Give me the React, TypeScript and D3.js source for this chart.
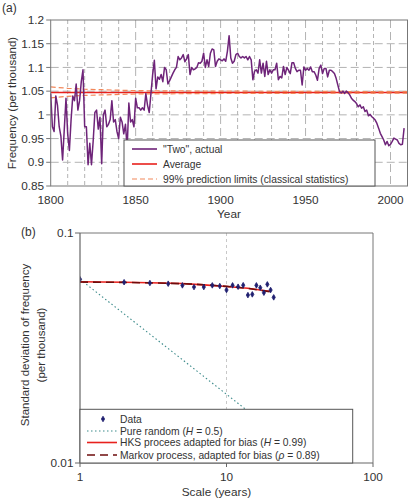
import React from 'react';
import * as d3 from 'd3';

// ---------- Panel (a) data ----------
const startYear = 1800;
const twoActual = [
  1.045, 0.975, 0.965, 1.040, 1.020, 0.975, 0.955, 0.905, 0.970, 1.035,
  0.960, 0.925, 0.990, 1.040, 1.030, 1.065, 1.010, 1.030, 1.070, 1.095,
  0.975, 0.975, 0.895, 0.940, 0.895, 0.945, 1.005, 1.010, 0.970, 0.995,
  0.897, 1.000, 1.010, 0.975, 0.980, 0.990, 1.030, 0.985, 0.990, 0.965,
  0.950, 0.995, 0.985, 0.960, 0.980, 0.930, 1.025, 0.985, 0.990, 0.975,
  1.035, 1.015, 1.015, 1.010, 1.015, 1.010, 1.045, 1.020, 1.005, 1.045,
  1.085, 1.115, 1.055, 1.080, 1.075, 1.085, 1.070, 1.100, 1.095, 1.065,
  1.072, 1.080, 1.088, 1.095, 1.100, 1.123, 1.116, 1.120, 1.127, 1.112,
  1.118, 1.127, 1.085, 1.100, 1.095, 1.097, 1.100, 1.110, 1.109, 1.113,
  1.130, 1.100, 1.116, 1.102, 1.130, 1.139, 1.137, 1.102, 1.113, 1.118,
  1.116, 1.114, 1.118, 1.113, 1.134, 1.167, 1.120, 1.109, 1.113, 1.127,
  1.130, 1.123, 1.120, 1.123, 1.120, 1.123, 1.116, 1.123, 1.116, 1.074,
  1.092, 1.095, 1.088, 1.116, 1.088, 1.109, 1.081, 1.113, 1.085, 1.095,
  1.088, 1.095, 1.095, 1.109, 1.074, 1.081, 1.078, 1.102, 1.085, 1.100,
  1.094, 1.087, 1.110, 1.110, 1.098, 1.091, 1.094, 1.094, 1.063, 1.101,
  1.094, 1.098, 1.094, 1.101, 1.091, 1.091, 1.084, 1.073, 1.098, 1.105,
  1.087, 1.098, 1.098, 1.080, 1.094, 1.094, 1.091, 1.087, 1.077, 1.063,
  1.049, 1.046, 1.050, 1.045, 1.050, 1.047, 1.042, 1.035, 1.031, 1.028,
  1.024, 1.017, 1.021, 1.014, 1.017, 1.007, 1.010, 0.998, 1.001, 0.996,
  0.993, 0.989, 0.982, 0.972, 0.961, 0.954, 0.947, 0.937, 0.944, 0.935,
  0.938, 0.944, 0.951, 0.949, 0.947, 0.940, 0.937, 0.938, 0.972,
];
const averageValue = 1.047;
const limitYears = [1800, 1810, 1820, 1830, 1850, 1900, 1950, 2010];
const upperLimit = [1.059, 1.056, 1.054, 1.053, 1.051, 1.050, 1.0495, 1.049];
const lowerLimit = [1.036, 1.039, 1.041, 1.042, 1.044, 1.045, 1.0455, 1.046];
const yTicksA = [0.85, 0.9, 0.95, 1, 1.05, 1.1, 1.15, 1.2];
const yTickLabelsA = ['0.85', '0.9', '0.95', '1', '1.05', '1.1', '1.15', '1.2'];
const xTicksA = [1800, 1850, 1900, 1950, 2000];
const xGridA = [1810, 1820, 1830, 1840, 1850, 1860, 1870, 1880, 1890, 1900, 1910, 1920, 1930, 1940, 1950, 1960, 1970, 1980, 1990, 2000];

// ---------- Panel (b) data ----------
const sdScales = [1, 2, 3, 4, 5, 6, 7, 8, 9, 10, 11, 12, 13, 14, 15, 16, 17, 18, 19, 20, 21];
const sdValues = [
  0.0629, 0.0611, 0.0606, 0.0602, 0.0592, 0.0582, 0.0582, 0.0592, 0.0588, 0.0565,
  0.0592, 0.0584, 0.0593, 0.0537, 0.0541, 0.0592, 0.0578, 0.0550, 0.0598, 0.0565, 0.0525,
];
const randomScales = [1, 40];
const randomValues = [0.0629, 0.00995];
const modelScales = [1, 2, 3, 5, 7, 10, 14, 20];
const hksValues = [0.0614, 0.0611, 0.0608, 0.0603, 0.0595, 0.0585, 0.0575, 0.0557];
const markovValues = [0.0612, 0.0610, 0.0607, 0.0602, 0.0596, 0.0586, 0.0574, 0.0555];
const xTicksB = [1, 10, 100];
const xTickLabelsB = ['1', '10', '100'];
const yTicksB = [0.01, 0.1];
const yTickLabelsB = ['0.01', '0.1'];

const FONT = '"Liberation Sans", Arial, Helvetica, sans-serif';
const TXT = '#333';
const PURPLE = '#6e2479';
const RED = '#e8211d';
const ORANGE = '#f2875a';
const NAVY = '#1f1f70';
const TEAL = '#3d8b8b';
const MAROON = '#6e0c0c';

export default function App() {
  // Panel (a) scales
  const xA = d3.scaleLinear().domain([1800, 2010]).range([50.7, 407.5]);
  const yA = d3.scaleLinear().domain([0.85, 1.2]).range([186, 20]);
  const seriesA = twoActual.map((v, i) => [startYear + i, v] as [number, number]);
  const lineA = d3.line<[number, number]>().x((d) => xA(d[0])).y((d) => yA(d[1]));
  const upperPts = limitYears.map((y, i) => [y, upperLimit[i]] as [number, number]);
  const lowerPts = limitYears.map((y, i) => [y, lowerLimit[i]] as [number, number]);

  // Panel (b) scales
  const xB = d3.scaleLog().domain([1, 100]).range([80, 373]);
  const yB = d3.scaleLog().domain([0.01, 0.1]).range([463, 233]);
  const lineB = d3.line<[number, number]>().x((d) => xB(d[0])).y((d) => yB(d[1]));
  const randomPts = randomScales.map((s, i) => [s, randomValues[i]] as [number, number]);
  const hksPts = modelScales.map((s, i) => [s, hksValues[i]] as [number, number]);
  const markovPts = modelScales.map((s, i) => [s, markovValues[i]] as [number, number]);
  const diamond = d3.symbol().type(d3.symbolDiamond).size(9)();

  const [aL, aR, aT, aB] = [xA.range()[0], xA.range()[1], yA.range()[1], yA.range()[0]];
  const [bL, bR, bT, bB] = [xB.range()[0], xB.range()[1], yB.range()[1], yB.range()[0]];

  return (
    <svg
      width={409}
      height={500}
      style={{ position: 'absolute', left: 0, top: 0, background: '#fff' }}
      fontFamily={FONT}
    >
      <defs>
        <clipPath id="clipB">
          <rect x={bL} y={bT} width={bR - bL} height={bB - bT} />
        </clipPath>
      </defs>
      <rect x={0} y={0} width={409} height={500} fill="#fff" />

      {/* ================= Panel (a) ================= */}
      <text x={2} y={12} fontSize={12} fill={TXT}>(a)</text>

      {/* grid */}
      {xGridA.map((y) => (
        <line
          key={'vg' + y}
          x1={xA(y)} x2={xA(y)} y1={aT} y2={aB}
          stroke="#b3b3b3" strokeWidth={1}
          strokeDasharray={y % 50 === 0 ? '8,4' : '4,3'}
        />
      ))}
      {yTicksA.slice(1, -1).map((v) => (
        <line
          key={'hg' + v}
          x1={aL} x2={aR} y1={yA(v)} y2={yA(v)}
          stroke="#b3b3b3" strokeWidth={1} strokeDasharray="8,4"
        />
      ))}

      {/* average and limits */}
      <line x1={xA(1800)} x2={xA(2010)} y1={yA(averageValue)} y2={yA(averageValue)} stroke={RED} strokeWidth={1.6} />
      <path d={lineA(upperPts) || ''} fill="none" stroke={ORANGE} strokeWidth={1.2} strokeDasharray="5,3" />
      <path d={lineA(lowerPts) || ''} fill="none" stroke={ORANGE} strokeWidth={1.2} strokeDasharray="5,3" />

      {/* series */}
      <path d={lineA(seriesA) || ''} fill="none" stroke={PURPLE} strokeWidth={1.5} strokeLinejoin="round" />

      {/* frame */}
      <rect x={aL} y={aT} width={aR - aL} height={aB - aT} fill="none" stroke="#777" strokeWidth={1} />

      {/* y ticks */}
      {yTicksA.map((v, i) => (
        <g key={'yta' + v}>
          <line x1={aL - 4.5} x2={aL} y1={yA(v)} y2={yA(v)} stroke="#777" />
          <text x={aL - 6.5} y={yA(v) + 4.2} fontSize={11.8} textAnchor="end" fill={TXT}>{yTickLabelsA[i]}</text>
        </g>
      ))}
      {/* x ticks */}
      {xTicksA.map((y) => (
        <text key={'xta' + y} x={xA(y)} y={204} fontSize={11.8} textAnchor="middle" fill={TXT}>{y}</text>
      ))}
      <text x={229} y={218} fontSize={11.8} textAnchor="middle" fill={TXT}>Year</text>
      <text
        transform={`translate(12,${(aT + aB) / 2}) rotate(-90)`}
        fontSize={11.5} textAnchor="middle" dominantBaseline="central" fill={TXT}
      >
        Frequency (per thousand)
      </text>

      {/* legend (a) */}
      <rect x={124} y={140} width={251} height={aB - 140} fill="#fff" stroke="#555" strokeWidth={1} />
      <line x1={132} x2={157} y1={149} y2={149} stroke={PURPLE} strokeWidth={1.6} />
      <text x={163} y={152.6} fontSize={10.3} fill={TXT}>"Two", actual</text>
      <line x1={132} x2={157} y1={164} y2={164} stroke={RED} strokeWidth={1.6} />
      <text x={163} y={167.6} fontSize={10.3} fill={TXT}>Average</text>
      <line x1={132} x2={157} y1={179} y2={179} stroke={ORANGE} strokeWidth={1.2} strokeDasharray="5,3" />
      <text x={163} y={182.6} fontSize={10.3} fill={TXT}>99% prediction limits (classical statistics)</text>

      {/* ================= Panel (b) ================= */}
      <text x={21} y={235.5} fontSize={12} fill={TXT}>(b)</text>

      <line x1={xB(10)} x2={xB(10)} y1={bT} y2={bB} stroke="#c8c8c8" strokeWidth={1} strokeDasharray="3,3" />

      <g clipPath="url(#clipB)">
        <path d={lineB(randomPts) || ''} fill="none" stroke={TEAL} strokeWidth={1.1} strokeDasharray="1.5,2.5" />
        <path d={lineB(hksPts) || ''} fill="none" stroke={RED} strokeWidth={1.6} />
        <path d={lineB(markovPts) || ''} fill="none" stroke={MAROON} strokeWidth={1.6} strokeDasharray="8,5" />
        {sdScales.map((s, i) => (
          <path key={'pt' + s} d={diamond || ''} transform={`translate(${xB(s)},${yB(sdValues[i])})`} fill={NAVY} stroke={NAVY} strokeWidth={0.8} />
        ))}
      </g>

      {/* frame */}
      <line x1={bL} x2={bR} y1={bT} y2={bT} stroke="#777" />
      <line x1={bR} x2={bR} y1={bT} y2={bB} stroke="#777" />
      <line x1={bL} x2={bR} y1={bB} y2={bB} stroke="#666" strokeWidth={1.2} />
      <line x1={bL} x2={bL} y1={bT} y2={bB} stroke="#666" strokeWidth={1.2} />

      {/* legend (b) */}
      <rect x={bL} y={409.3} width={272.7} height={bB - 409.3} fill="#fff" stroke="#555" strokeWidth={1} />
      <path d={diamond || ''} transform="translate(103,419)" fill={NAVY} stroke={NAVY} strokeWidth={0.8} />
      <text x={120} y={422.6} fontSize={10.3} fill={TXT}>Data</text>
      <line x1={87} x2={117} y1={431} y2={431} stroke={TEAL} strokeWidth={1.1} strokeDasharray="1.5,2.5" />
      <text x={120} y={434.6} fontSize={10.3} fill={TXT}>
        Pure random (<tspan fontStyle="italic">H</tspan> = 0.5)
      </text>
      <line x1={87} x2={117} y1={442.5} y2={442.5} stroke={RED} strokeWidth={1.6} />
      <text x={120} y={446.1} fontSize={10.3} fill={TXT}>
        HKS procees adapted for bias (<tspan fontStyle="italic">H</tspan> = 0.99)
      </text>
      <line x1={87} x2={117} y1={455} y2={455} stroke={MAROON} strokeWidth={1.6} strokeDasharray="8,5" />
      <text x={120} y={458.6} fontSize={10.3} fill={TXT}>
        Markov process, adapted for bias (<tspan fontStyle="italic">ρ</tspan> = 0.89)
      </text>

      {/* ticks (b) */}
      {yTicksB.map((v, i) => (
        <g key={'ytb' + v}>
          <line x1={bL - 5} x2={bL} y1={yB(v)} y2={yB(v)} stroke="#666" />
          <text x={bL - 6.5} y={yB(v) + 4.2} fontSize={11.8} textAnchor="end" fill={TXT}>{yTickLabelsB[i]}</text>
        </g>
      ))}
      {xTicksB.map((v, i) => (
        <g key={'xtb' + v}>
          <line x1={xB(v)} x2={xB(v)} y1={bB} y2={bB + 4} stroke="#666" />
          <text x={xB(v)} y={480.5} fontSize={11.8} textAnchor="middle" fill={TXT}>{xTickLabelsB[i]}</text>
        </g>
      ))}
      <text x={(bL + bR) / 2 - 10} y={495.5} fontSize={11.8} textAnchor="middle" fill={TXT}>Scale (years)</text>
      <text
        transform={`translate(25,${(bT + bB) / 2 - 3}) rotate(-90)`}
        fontSize={11.5} textAnchor="middle" dominantBaseline="central" fill={TXT}
      >
        Standard deviation of frequency
      </text>
      <text
        transform={`translate(41,${(bT + bB) / 2 - 3}) rotate(-90)`}
        fontSize={11.5} textAnchor="middle" dominantBaseline="central" fill={TXT}
      >
        (per thousand)
      </text>
    </svg>
  );
}
